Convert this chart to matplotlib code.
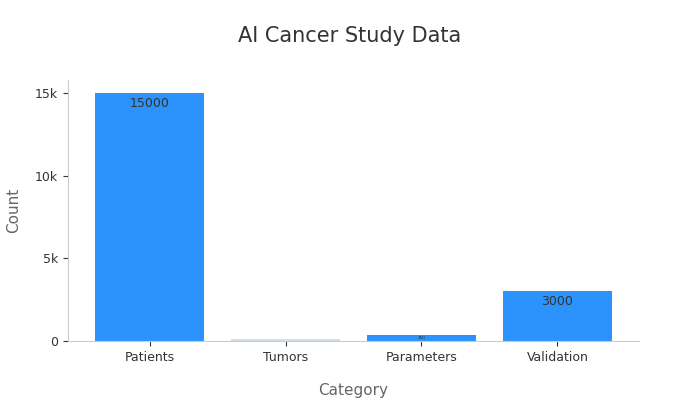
import matplotlib
matplotlib.use("Agg")
import matplotlib.pyplot as plt
from matplotlib.ticker import FuncFormatter

categories = ["Patients", "Tumors", "Parameters", "Validation"]
values = [15000, 100, 350, 3000]
colors = ["#2b93fb", "#d0e0ea", "#2b93fb", "#2b93fb"]

fig = plt.figure(figsize=(7, 4), dpi=100)
ax = fig.add_axes([0.097, 0.148, 0.816, 0.652])
bars = ax.bar(categories, values, color=colors, width=0.8, edgecolor="none")
ax.set_xlim(-0.6, 3.6)
ax.set_ylim(0, 15800)
ax.set_yticks([0, 5000, 10000, 15000])
ax.yaxis.set_major_formatter(FuncFormatter(lambda v, p: "0" if v == 0 else f"{int(v/1000)}k"))
for s in ["top", "right"]:
    ax.spines[s].set_visible(False)
for s in ["left", "bottom"]:
    ax.spines[s].set_color("#cccccc")
ax.tick_params(colors="#333333", labelsize=9)
ax.tick_params(axis="both", color="#333333")
fig.suptitle("AI Cancer Study Data", y=0.935, fontsize=15, color="#333333")
ax.set_xlabel("Category", fontsize=11, color="#666666", labelpad=14)
ax.set_ylabel("Count", fontsize=11, color="#666666", labelpad=10)
for b, v in zip(bars, values):
    if v >= 1000:
        ax.text(b.get_x() + b.get_width()/2, v - 250, str(v), ha="center", va="top", fontsize=9, color="#333333")
    elif v >= 300:
        ax.text(b.get_x() + b.get_width()/2, v/2, str(v), ha="center", va="center", fontsize=3, color="#333333")
fig.savefig("out.png")
